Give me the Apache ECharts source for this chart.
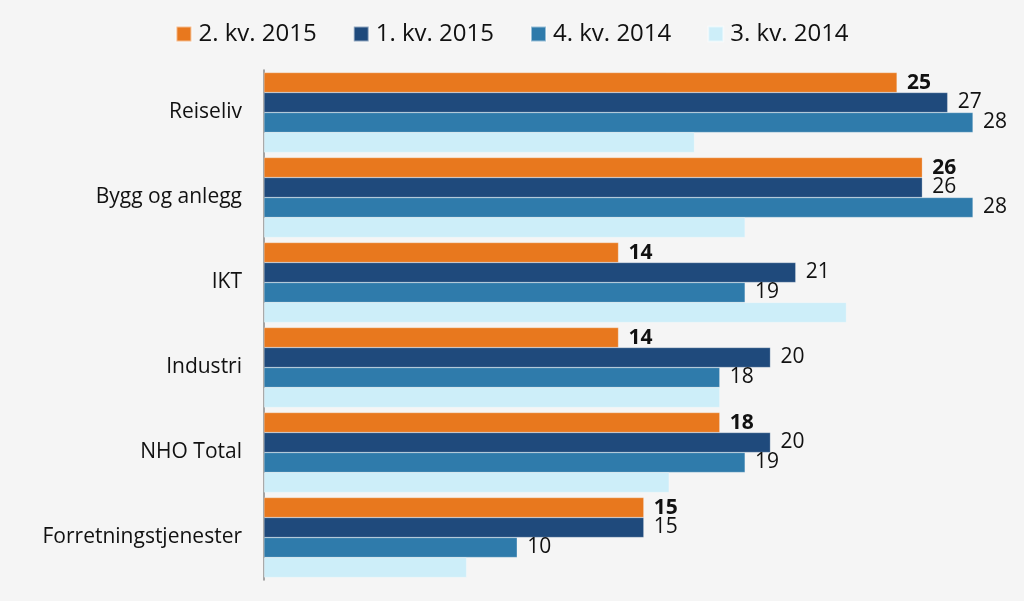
<!DOCTYPE html>
<html><head><meta charset="utf-8">
<script src="https://cdn.jsdelivr.net/npm/echarts@6/dist/echarts.min.js"></script>
<style>html,body{margin:0;padding:0;background:#f5f5f5}#c{width:1024px;height:601px}</style>
</head><body><div id="c"></div>
<script>
const categories = ["Reiseliv","Bygg og anlegg","IKT","Industri","NHO Total","Forretningstjenester"];
const seriesNames = ["2. kv. 2015","1. kv. 2015","4. kv. 2014","3. kv. 2014"];
const q2_2015 = [25,26,14,14,18,15];
const q1_2015 = [27,26,21,20,20,15];
const q4_2014 = [28,28,19,18,19,10];
const q3_2014 = [17,19,23,18,16,8];
const colors = ["#e8781e","#1f4a7c","#2f7bab","#cdeef9"];
const values = [q2_2015,q1_2015,q4_2014,q3_2014];
const font = "'Open Sans', sans-serif";
const chart = echarts.init(document.getElementById('c'));
chart.setOption({
  backgroundColor:'#f5f5f5',
  animation:false,
  legend:{top:17,left:'center',itemWidth:15,itemHeight:15,itemGap:36,icon:'rect',
    textStyle:{fontFamily:font,fontSize:24,color:'#111',padding:[0,0,0,2]},data:seriesNames},
  grid:{left:264,right:51,top:70,height:510},
  xAxis:{type:'value',min:0,max:28,show:false},
  yAxis:{type:'category',inverse:true,data:categories,
    axisLine:{show:true,lineStyle:{color:'#888',width:1.5}},axisTick:{show:false},
    axisLabel:{fontFamily:font,fontSize:21,color:'#111',margin:22}},
  series: values.map((v,i)=>({
    name:seriesNames[i],type:'bar',data:v,barGap:'0%',barCategoryGap:'6%',
    itemStyle:{color:colors[i],borderColor:'rgba(255,255,255,0.5)',borderWidth:0.5},
    label:{show:i<3,position:'right',distance:10,fontFamily:font,fontSize:21,color:'#111',
      fontWeight:i===0?'bold':'normal'}
  }))
});
</script></body></html>
